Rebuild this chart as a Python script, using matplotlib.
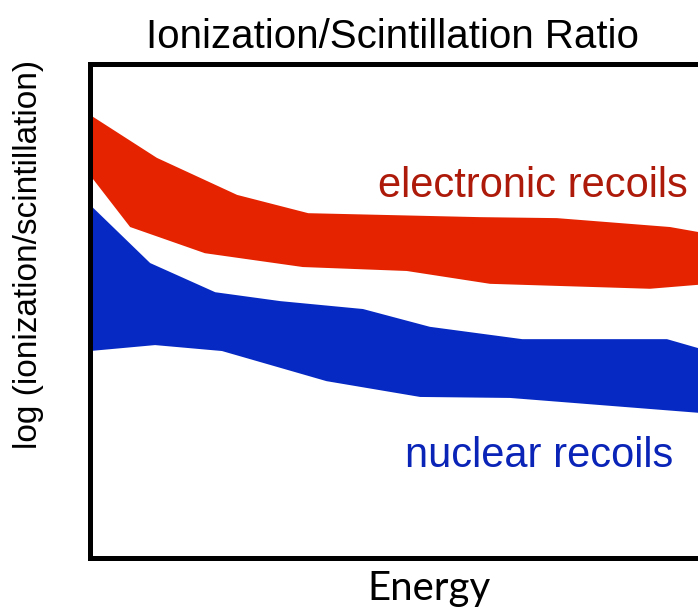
import matplotlib
matplotlib.use("Agg")
import matplotlib.pyplot as plt
from matplotlib import font_manager

# band edges, energy (0-100) vs log ratio (arbitrary 0-100)
er_upper_x = [0, 11.0, 24.2, 35.9, 64.1, 76.8, 95.4, 100]
er_upper_y = [89.7, 81.0, 73.5, 69.8, 69.0, 68.8, 67.0, 66.0]
er_lower_x = [0, 6.6, 18.9, 35.0, 52.1, 65.8, 92.1, 100]
er_lower_y = [77.5, 67.0, 61.7, 58.9, 58.1, 55.5, 54.5, 55.3]

nr_upper_x = [0, 9.9, 20.6, 31.3, 44.9, 55.9, 71.1, 94.9, 100]
nr_upper_y = [71.5, 59.7, 53.8, 52.0, 50.4, 46.8, 44.3, 44.3, 42.5]
nr_lower_x = [0, 10.7, 21.7, 38.9, 54.3, 69.1, 100]
nr_lower_y = [41.9, 43.1, 41.9, 35.8, 32.6, 32.4, 29.4]

er_color = "#e52300"
nr_color = "#0629c4"

# narrow helvetica-like face for title / ylabel if we have it
installed = {f.name for f in font_manager.fontManager.ttflist}
if "Liberation Sans Narrow" in installed:
    narrow, title_size, ylab_size = "Liberation Sans Narrow", 35, 29.5
else:
    narrow, title_size, ylab_size = "Liberation Sans", 29, 24

fig = plt.figure(figsize=(6.98, 6.13), dpi=100)
ax = fig.add_axes([90 / 698, 55 / 613, 608 / 698, 494 / 613])

ax.fill(er_upper_x + er_lower_x[::-1], er_upper_y + er_lower_y[::-1],
        color=er_color, lw=0)
ax.fill(nr_upper_x + nr_lower_x[::-1], nr_upper_y + nr_lower_y[::-1],
        color=nr_color, lw=0)

ax.set_xlim(0, 100)
ax.set_ylim(0, 100)
ax.set_xticks([])
ax.set_yticks([])
ax.spines["right"].set_visible(False)
for s in ["left", "top", "bottom"]:
    ax.spines[s].set_linewidth(3.6)
    ax.spines[s].set_color("black")

ax.text(0.729, 0.731, "electronic recoils", transform=ax.transAxes,
        ha="center", va="baseline", fontsize=30, color="#ad1a0a",
        family="Liberation Sans")
ax.text(0.738, 0.184, "nuclear recoils", transform=ax.transAxes,
        ha="center", va="baseline", fontsize=30, color="#0a24b8",
        family="Liberation Sans")

fig.text(392 / 698, 1 - 48 / 613, "Ionization/Scintillation Ratio",
         ha="center", va="baseline", fontsize=title_size, family=narrow)
fig.text(29 / 698, 1 - 254 / 613, "log (ionization/scintillation)",
         ha="center", va="center", rotation=90, fontsize=ylab_size,
         family=narrow)
fig.text(429 / 698, 1 - 600 / 613, "Energy", ha="center", va="baseline",
         fontsize=29, family="Lato")

fig.savefig("out.png", dpi=100)
